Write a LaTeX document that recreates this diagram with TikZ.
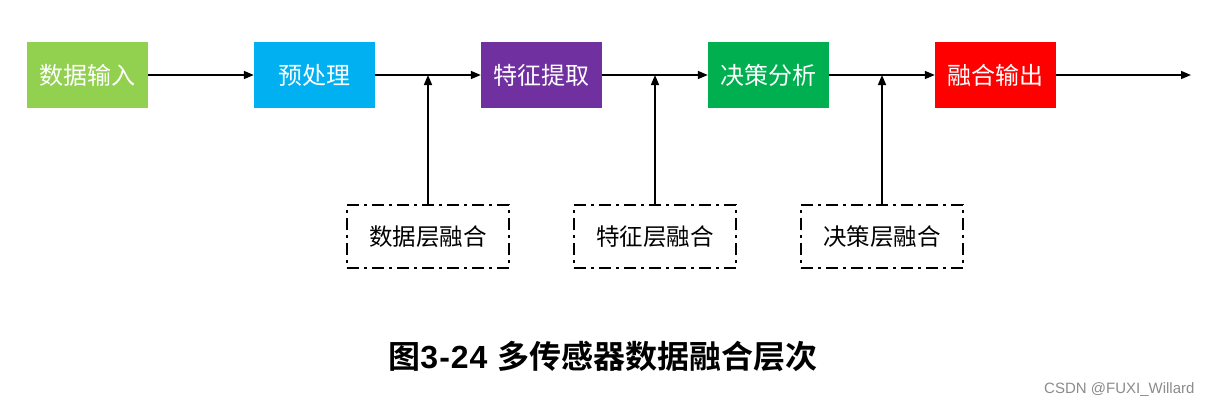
\documentclass[tikz,border=0pt]{standalone}
\usepackage{fontspec}
\usetikzlibrary{arrows.meta}
\newfontfamily\cjk{Noto Sans CJK SC}
\newfontfamily\cjkbold{Noto Sans CJK SC Bold}
\setmainfont{Liberation Sans}
\definecolor{cgreenl}{HTML}{92D050}
\definecolor{cblue}{HTML}{00B0F0}
\definecolor{cpurple}{HTML}{7030A0}
\definecolor{cgreen}{HTML}{00B050}
\definecolor{cred}{HTML}{FF0000}
\tikzset{
  procbox/.style={minimum width=121pt, minimum height=66pt, inner sep=0pt, text=white, font=\cjk\fontsize{24}{28}\selectfont},
  fusebox/.style={draw=black, line width=2.8pt, dash pattern=on 12pt off 5pt on 3pt off 5pt, minimum width=162pt, minimum height=63pt, inner sep=0pt, font=\cjk\fontsize{23.5}{28}\selectfont},
  flow/.style={line width=1.6pt, -{Triangle[length=10pt,width=8pt]}},
}
\begin{document}
\begin{tikzpicture}[x=1pt,y=-1pt]
\useasboundingbox[fill=white] (0,0) rectangle (1212,410);
\node[procbox, fill=cgreenl] (in) at (87.5,75) {数据输入};
\node[procbox, fill=cblue] (pre) at (314.5,75) {预处理};
\node[procbox, fill=cpurple] (feat) at (541.5,75) {特征提取};
\node[procbox, fill=cgreen] (dec) at (768.5,75) {决策分析};
\node[procbox, fill=cred] (out) at (995.5,75) {融合输出};
\coordinate (end) at (1191,75);
\node[fusebox] (f1) at (428,236.5) {数据层融合};
\node[fusebox] (f2) at (655,236.5) {特征层融合};
\node[fusebox] (f3) at (882,236.5) {决策层融合};
\draw[flow] (in) -- (pre);
\draw[flow] (pre) -- (feat);
\draw[flow] (feat) -- (dec);
\draw[flow] (dec) -- (out);
\draw[flow] (out) -- (end);
\draw[flow] (f1.north) -- (f1.north |- pre.east);
\draw[flow] (f2.north) -- (f2.north |- feat.east);
\draw[flow] (f3.north) -- (f3.north |- dec.east);
\node[font=\fontsize{32}{37}\selectfont] (cap) at (603,356) {{\cjkbold 图}\textbf{3\kern1pt-\kern1pt2\kern1pt4}\hspace{10pt}{\cjkbold 多传感器数据融合层次}};
\node[anchor=east, text=black!45, font=\fontsize{15}{18}\selectfont] (wm) at (1198,390) {CSDN @FUXI\_Willard};
\end{tikzpicture}
\end{document}
